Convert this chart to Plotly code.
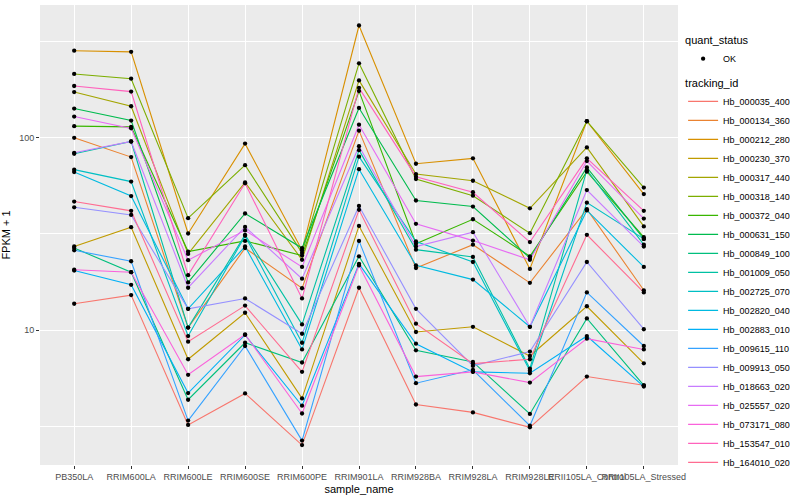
import plotly.graph_objects as go

samples = ["PB350LA", "RRIM600LA", "RRIM600LE", "RRIM600SE", "RRIM600PE", "RRIM901LA",
           "RRIM928BA", "RRIM928LA", "RRIM928LE", "RRII105LA_Control", "RRII105LA_Stressed"]

tracking_ids = ["Hb_000035_400", "Hb_000134_360", "Hb_000212_280", "Hb_000230_370", "Hb_000317_440",
                "Hb_000318_140", "Hb_000372_040", "Hb_000631_150", "Hb_000849_100", "Hb_001009_050",
                "Hb_002725_070", "Hb_002820_040", "Hb_002883_010", "Hb_009615_110", "Hb_009913_050",
                "Hb_018663_020", "Hb_025557_020", "Hb_073171_080", "Hb_153547_010", "Hb_164010_020"]

colors = ["#F8766D", "#EA8331", "#D89000", "#C09B00", "#A3A500", "#7CAE00", "#39B600", "#00BB4E",
          "#00BF7D", "#00C1A3", "#00BFC4", "#00BAE0", "#00B0F6", "#35A2FF", "#9590FF", "#C77CFF",
          "#E76BF3", "#FA62DB", "#FF62BC", "#FF6C91"]

# FPKM + 1 values, one list per tracking_id, in sample order
Hb_000035_400 = [13.7, 15.2, 3.21, 4.68, 2.52, 16.6, 4.10, 3.73, 3.12, 5.73, 5.16]
Hb_000134_360 = [100, 79.4, 10.3, 26.7, 16.5, 109, 21.0, 27.8, 17.6, 42.5, 16.1]
Hb_000212_280 = [284, 280, 31.8, 93.3, 26.0, 384, 73.3, 78.2, 20.8, 122, 51.0]
Hb_000230_370 = [27.2, 34.3, 7.05, 12.3, 4.41, 34.8, 9.77, 10.4, 7.33, 13.3, 6.71]
Hb_000317_440 = [173, 146, 24.9, 58.6, 23.2, 199, 64.8, 59.8, 43.0, 89.1, 34.6]
Hb_000318_140 = [215, 203, 38.2, 72.1, 25.2, 244, 61.0, 50.0, 31.9, 122, 55.1]
Hb_000372_040 = [115, 114, 25.6, 29.1, 24.4, 175, 28.1, 37.7, 24.2, 66.7, 30.4]
Hb_000631_150 = [142, 123, 17.7, 40.4, 26.7, 143, 47.2, 43.9, 23.7, 70.1, 29.8]
Hb_000849_100 = [26.7, 20.0, 4.34, 8.59, 6.78, 24.2, 7.84, 6.83, 3.66, 11.5, 5.16]
Hb_001009_050 = [82.6, 95.7, 10.3, 31.3, 10.7, 86.3, 26.2, 24.0, 6.30, 68.0, 27.8]
Hb_002725_070 = [68.3, 59.2, 9.31, 30.9, 8.59, 79.8, 28.9, 22.6, 6.14, 46.0, 29.8]
Hb_002820_040 = [66.4, 49.8, 12.9, 27.2, 7.93, 68.7, 21.7, 18.3, 10.4, 41.9, 21.3]
Hb_002883_010 = [20.4, 17.2, 4.70, 9.43, 4.04, 22.1, 8.49, 6.06, 5.96, 9.31, 5.08]
Hb_009615_110 = [26.0, 22.8, 3.38, 8.26, 2.66, 29.1, 5.29, 6.21, 3.18, 15.7, 8.26]
Hb_009913_050 = [43.5, 39.7, 12.9, 14.6, 9.57, 44.2, 12.9, 6.51, 7.73, 22.6, 10.1]
Hb_018663_020 = [83.6, 95.7, 16.6, 34.4, 18.5, 90.4, 27.2, 32.3, 10.4, 53.5, 27.2]
Hb_025557_020 = [129, 112, 23.1, 33.0, 21.3, 117, 35.7, 29.2, 23.2, 75.7, 38.0]
Hb_073171_080 = [20.6, 20.0, 5.85, 9.49, 3.68, 21.7, 5.73, 6.06, 5.33, 9.02, 7.93]
Hb_153547_010 = [186, 174, 19.3, 58.0, 14.6, 182, 62.8, 52.1, 28.7, 78.2, 41.7]
Hb_164010_020 = [46.6, 41.7, 8.70, 13.4, 6.06, 42.2, 10.8, 6.69, 7.05, 31.3, 15.7]

series = [Hb_000035_400, Hb_000134_360, Hb_000212_280, Hb_000230_370, Hb_000317_440,
          Hb_000318_140, Hb_000372_040, Hb_000631_150, Hb_000849_100, Hb_001009_050,
          Hb_002725_070, Hb_002820_040, Hb_002883_010, Hb_009615_110, Hb_009913_050,
          Hb_018663_020, Hb_025557_020, Hb_073171_080, Hb_153547_010, Hb_164010_020]

quant_status = ["OK"]

FONT = "Liberation Sans"

fig = go.Figure()

for tid, col, vals in zip(tracking_ids, colors, series):
    fig.add_trace(go.Scatter(
        x=samples, y=vals, mode="lines", name=tid,
        line=dict(color=col, width=1.1),
        legend="legend", legendgroup=tid, showlegend=True,
    ))

all_x = [s for vals in series for s in samples]
all_y = [v for vals in series for v in vals]
fig.add_trace(go.Scatter(
    x=all_x, y=all_y, mode="markers", name=quant_status[0],
    marker=dict(color="black", size=4.3, symbol="circle"),
    legend="legend2", showlegend=True,
))

fig.update_layout(
    width=800, height=500,
    margin=dict(l=40, r=116, t=5, b=35),
    paper_bgcolor="white",
    plot_bgcolor="#EBEBEB",
    font=dict(family=FONT, color="black"),
    xaxis=dict(
        type="category", categoryorder="array", categoryarray=samples,
        range=[-0.6, len(samples) - 0.4],
        showgrid=True, gridcolor="white", gridwidth=1.2,
        ticks="outside", ticklen=3, tickcolor="#333333", tickwidth=1,
        tickangle=0, tickfont=dict(size=9, color="#4D4D4D", family=FONT),
        title=dict(text="sample_name", font=dict(size=11, color="black"), standoff=4),
        zeroline=False, showline=False,
    ),
    yaxis=dict(
        type="log", range=[0.298, 2.691],
        tickmode="array", tickvals=[10, 100], ticktext=["10", "100"],
        showgrid=True, gridcolor="white", gridwidth=1.2,
        minor=dict(tickmode="array", tickvals=[3.1623, 31.623, 316.23],
                   showgrid=True, gridcolor="white", gridwidth=0.6, ticks=""),
        ticks="outside", ticklen=3, tickcolor="#333333", tickwidth=1,
        tickfont=dict(size=9, color="#4D4D4D", family=FONT),
        title=dict(text="FPKM + 1", font=dict(size=11, color="black"), standoff=6),
        zeroline=False, showline=False,
    ),
    legend=dict(
        title=dict(text="tracking_id", font=dict(size=11, color="black")),
        font=dict(size=9, color="black", family=FONT),
        x=1.008, xanchor="left", y=0.853, yanchor="top",
        itemwidth=30, tracegroupgap=0, bgcolor="rgba(0,0,0,0)",
    ),
    legend2=dict(
        title=dict(text="quant_status", font=dict(size=11, color="black")),
        font=dict(size=9, color="black", family=FONT),
        x=1.008, xanchor="left", y=0.946, yanchor="top",
        itemwidth=30, bgcolor="rgba(0,0,0,0)",
    ),
)

fig.write_html(
    "out.html",
    config={"displayModeBar": False},
    post_script="document.body.style.margin='0';document.body.style.padding='0';",
)
